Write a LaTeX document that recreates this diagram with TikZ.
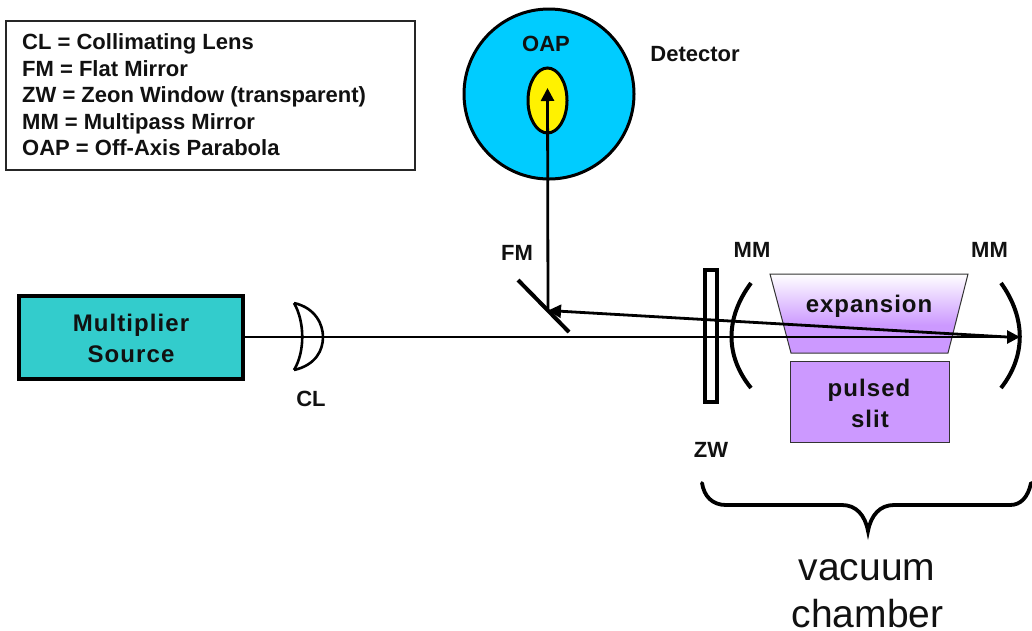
\documentclass[tikz,border=0pt]{standalone}
\usepackage{fontspec}
\setmainfont{Liberation Sans}
\usetikzlibrary{arrows.meta}
\definecolor{srcteal}{HTML}{33CCCC}
\definecolor{skyb}{HTML}{00CCFF}
\definecolor{pur}{HTML}{CC99FF}
\definecolor{ink}{HTML}{111111}
\tikzset{
  lbl/.style={inner sep=0pt,text=ink,anchor=base,font=\fontsize{22}{26}\selectfont\bfseries},
  lgd/.style={lbl,anchor=base west},
  big/.style={inner sep=0pt,text=ink,anchor=base,font=\fontsize{24}{28}\selectfont\bfseries\addfontfeature{LetterSpace=4.5}},
  reg/.style={inner sep=0pt,text=ink,anchor=base,font=\fontsize{39}{45}\selectfont},
  beam/.style={draw=black,line width=2.8pt},
  tip/.style={-{Triangle[length=13pt,width=13pt]}},
  optic/.style={draw=black,line width=4pt},
}
\begin{document}
\begin{tikzpicture}[x=1pt,y=-1pt]
\useasboundingbox (0,0) rectangle (1032,630);
% legend
\node (legendbox) [draw=black!85,line width=1.5pt,fill=white,minimum width=409pt,minimum height=149pt,anchor=north west,inner sep=0pt] at (5,20) {};
\node (l1) [lgd] at (22,49) {CL = Collimating Lens};
\node (l2) [lgd] at (22,76) {FM = Flat Mirror};
\node (l3) [lgd] at (22,102) {ZW = Zeon Window (transparent)};
\node (l4) [lgd] at (22,129) {MM = Multipass Mirror};
\node (l5) [lgd] at (22,155) {OAP = Off-Axis Parabola};
% detector
\node (det) [circle,draw=black,line width=3pt,fill=skyb,minimum size=170pt,inner sep=0pt] at (549,94) {};
\draw[line width=3pt,fill=yellow] (547.5,100.5) ellipse [x radius=19.5,y radius=32.5];
\node (oap) [lbl] at (546,51) {OAP};
\node (dettxt) [lbl] at (695,61) {Detector};
% chamber gas
\begin{scope}
\clip (770,274) -- (968,274) -- (948,353) -- (791,353) -- cycle;
\shade[top color=white,bottom color=pur] (760,274) rectangle (980,325);
\fill[pur] (760,324.5) rectangle (980,354);
\end{scope}
\draw[line width=1pt,draw=black!80] (770,274) -- (968,274) -- (948,353) -- (791,353) -- cycle;
\node (slit) [draw=black!80,line width=1pt,fill=pur,minimum width=159pt,minimum height=81pt,inner sep=0pt] at (869.5,401.5) {};
\node (exp) [big,font=\fontsize{24}{28}\selectfont\bfseries\addfontfeature{LetterSpace=4}] at (869,312) {expansion};
\node (pulsed) [big] at (869,396) {pulsed};
\node (slittxt) [big] at (870,427) {slit};
% source
\node (src) [draw=black,line width=4pt,fill=srcteal,minimum width=224pt,minimum height=83pt,inner sep=0pt] at (131,337.5) {};
\node (m1) [big] at (131,331) {Multiplier};
\node (m2) [big] at (131,362) {Source};
% coordinates
\coordinate (mmr) at (1020,337);
\coordinate (fmhit) at (548,310.5);
\coordinate (oaptip) at (547.5,88);
\coordinate (mmrhit) at (1016,337.5);
% beams
\draw[beam,tip] (src.east |- 0,337) -- (mmr);
\draw[beam,tip] (mmrhit) -- (fmhit);
\draw[beam,tip] (fmhit) -- (oaptip);
% lens
\draw[line width=2.6pt] (294,303) .. controls (305,322) and (305,352) .. (294,370);
\draw[line width=2.6pt] (294,303) .. controls (316,308) and (323,325) .. (323,337) .. controls (323,350) and (316,365) .. (294,370);
\node (cl) [lbl] at (311,406) {CL};
% flat mirror
\draw[optic] (518,280) -- (569,332);
\node (fm) [lbl] at (517,260) {FM};
% zeon window
\node (zw) [draw=black,line width=3.8pt,minimum width=12pt,minimum height=132pt,inner sep=0pt] at (711,336) {};
\node (zwt) [lbl] at (711,457) {ZW};
% multipass mirrors
\draw[optic] (751,283) .. controls (725,318) and (725,356) .. (751,388);
\draw[optic] (1001,283) .. controls (1026,318) and (1026,356) .. (1001,388);
\node (mm1) [lbl] at (752,257) {MM};
\node (mm2) [lbl] at (989.5,257) {MM};
% brace
\draw[line width=3.8pt,line cap=round] (702,483) .. controls (704,496) and (712,505) .. (726,505) -- (842,505) .. controls (856,505) and (865,515) .. (868,531) .. controls (871,515) and (880,505) .. (894,505) -- (1010,505) .. controls (1021,505) and (1028,497) .. (1031,483);
\node (vac) [reg] at (867,580) {vacuum};
\node (cham) [reg] at (867.5,627) {chamber};
\end{tikzpicture}
\end{document}
